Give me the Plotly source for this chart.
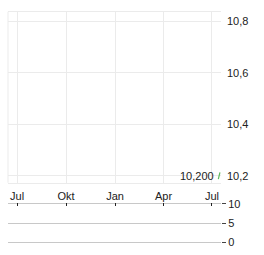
import plotly.graph_objects as go

dates = ["2024-07-13", "2024-07-16"]
prices = [10.187, 10.213]
last_label = "10,200"
x_tickvals = ["2023-07-01", "2023-10-01", "2024-01-01", "2024-04-01", "2024-07-01"]
x_ticktext = ["Jul", "Okt", "Jan", "Apr", "Jul"]
y_tickvals = [10.2, 10.4, 10.6, 10.8]
vol_tickvals = [0, 5, 10]
x_range = ["2023-06-14", "2024-07-18"]

W, H = 264, 255
def px_x(p): return p / W
def px_y(p): return 1 - p / H

FONT = dict(family="Liberation Sans, Arial, sans-serif", size=11, color="#222")
GRID = "#ebebeb"

fig = go.Figure()
fig.add_trace(go.Scatter(x=dates, y=prices, mode="lines",
                         line=dict(color="#5cb85c", width=1.2),
                         xaxis="x", yaxis="y", hoverinfo="skip"))
fig.add_trace(go.Scatter(x=dates, y=[None, None], mode="lines",
                         xaxis="x2", yaxis="y2", hoverinfo="skip"))

fig.update_layout(
    width=W, height=H,
    margin=dict(l=0, r=0, t=0, b=0),
    paper_bgcolor="white", plot_bgcolor="white",
    showlegend=False,
    separators=",.",
    font=FONT,
    xaxis=dict(domain=[px_x(8), px_x(221)], range=x_range, anchor="y",
               tickvals=x_tickvals, ticktext=x_ticktext, ticks="",
               showgrid=True, gridcolor=GRID, gridwidth=1,
               showline=True, linecolor=GRID, mirror=True,
               zeroline=False, tickfont=FONT, ticklabelstandoff=3),
    yaxis=dict(domain=[px_y(185), px_y(7)], range=[10.1725, 10.838],
               side="right", anchor="x", tickvals=y_tickvals,
               tickformat=".1f", showgrid=True, gridcolor=GRID,
               zeroline=False, ticks="", tickfont=FONT, ticklabelstandoff=5),
    xaxis2=dict(domain=[px_x(8), px_x(221)], range=x_range, anchor="y2",
                side="top", tickvals=x_tickvals, showticklabels=False,
                ticks="inside", ticklen=3, tickcolor="#222",
                showgrid=False, zeroline=False, showline=False),
    yaxis2=dict(domain=[px_y(248.2), px_y(205.8)], range=[-0.3, 10.3],
                side="right", anchor="x2", tickvals=vol_tickvals,
                showgrid=True, gridcolor="#c8c8c8", zeroline=False,
                ticks="outside", ticklen=4, tickcolor="#444",
                tickfont=FONT, ticklabelstandoff=0),
    shapes=[dict(type="line", xref="paper", yref="paper",
                 x0=px_x(8), x1=px_x(8), y0=px_y(185), y1=px_y(7),
                 line=dict(color=GRID, width=1))],
    annotations=[dict(x=dates[-1], y=10.2, xref="x", yref="y",
                      text=last_label, showarrow=False, xanchor="right",
                      yanchor="middle", xshift=-4, font=FONT)],
)

fig.write_html("out.html")
